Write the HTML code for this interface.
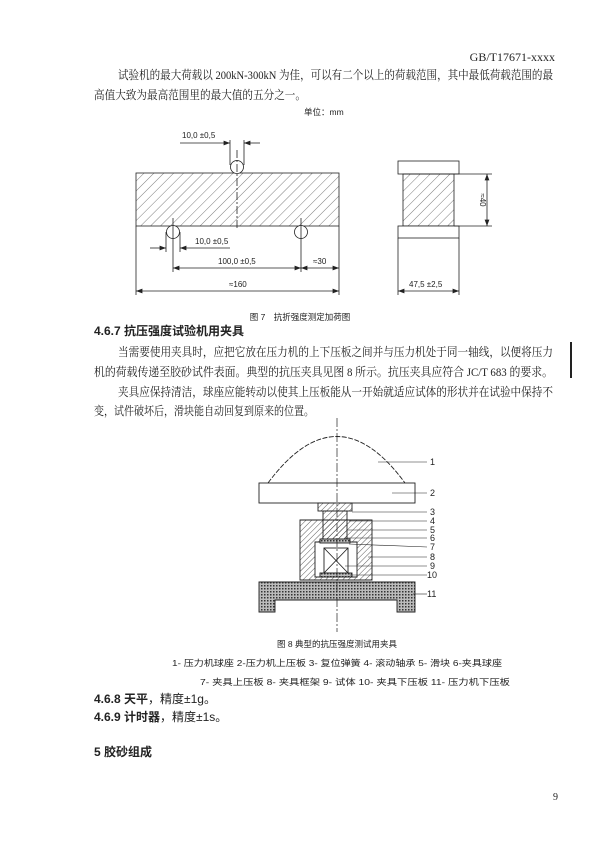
<!DOCTYPE html>
<html><head><meta charset="utf-8"><style>
html,body{margin:0;padding:0;background:#fff;}
svg{display:block}
text{font-family:"Liberation Serif","Noto Serif CJK SC","Noto Sans CJK SC",serif;fill:#222}
.s,.s text{font-family:"Liberation Sans","Noto Sans CJK SC",sans-serif}
</style></head><body>
<svg width="600" height="851" viewBox="0 0 600 851" xmlns="http://www.w3.org/2000/svg">
<defs>
<pattern id="h" width="7" height="7" patternUnits="userSpaceOnUse" patternTransform="rotate(45)"><line x1="0" y1="0" x2="0" y2="7" stroke="#444" stroke-width="0.7"/></pattern>
<pattern id="h2" width="4" height="4" patternUnits="userSpaceOnUse" patternTransform="rotate(45)"><line x1="0" y1="0" x2="0" y2="4" stroke="#333" stroke-width="0.8"/></pattern>
<pattern id="hx" width="3" height="3" patternUnits="userSpaceOnUse"><rect width="3" height="3" fill="#bbb"/><rect width="1.5" height="1.5" fill="#333"/></pattern>
<marker id="a" markerWidth="8" markerHeight="6" refX="8" refY="3" orient="auto-start-reverse"><path d="M0,0 L8,3 L0,6z" fill="#222"/></marker>
</defs>
<text x="555" y="61" font-size="12" text-anchor="end">GB/T17671-xxxx</text>
<text x="118" y="79" font-size="12" textLength="435" lengthAdjust="spacingAndGlyphs">试验机的最大荷载以 200kN-300kN 为佳，可以有二个以上的荷载范围，其中最低荷载范围的最</text>
<text x="94" y="99" font-size="12" textLength="212" lengthAdjust="spacingAndGlyphs">高值大致为最高范围里的最大值的五分之一。</text>
<text x="304" y="115" font-size="8.5" class="s">单位：mm</text>

<!-- Fig 7 -->
<g stroke="#222" fill="none" stroke-width="0.8">
<rect x="136" y="173" width="203" height="53" fill="url(#h)"/>
<circle cx="237" cy="167" r="6.5" fill="#fff"/>
<circle cx="173" cy="232" r="6.5" fill="#fff"/>
<circle cx="301" cy="232" r="6.5" fill="#fff"/>
<line x1="237" y1="150" x2="237" y2="230" stroke-dasharray="8,2,2,2"/>
<line x1="173" y1="218" x2="173" y2="272"/>
<line x1="301" y1="218" x2="301" y2="272"/>
<line x1="230" y1="140" x2="230" y2="165"/><line x1="244" y1="140" x2="244" y2="165"/>
<line x1="180" y1="143" x2="230" y2="143" marker-end="url(#a)"/><line x1="260" y1="143" x2="244" y2="143" marker-end="url(#a)"/>
<line x1="166" y1="232" x2="166" y2="252"/><line x1="180" y1="232" x2="180" y2="252"/>
<line x1="150" y1="248" x2="166" y2="248" marker-end="url(#a)"/><line x1="230" y1="248" x2="180" y2="248" marker-end="url(#a)"/>
<line x1="173" y1="268" x2="301" y2="268" marker-start="url(#a)" marker-end="url(#a)"/>
<line x1="301" y1="268" x2="339" y2="268" marker-start="url(#a)" marker-end="url(#a)"/>
<line x1="136" y1="226" x2="136" y2="295"/><line x1="339" y1="226" x2="339" y2="295"/>
<line x1="136" y1="291" x2="339" y2="291" marker-start="url(#a)" marker-end="url(#a)"/>
<rect x="398" y="161" width="61" height="13" fill="#fff"/>
<rect x="403" y="174" width="51" height="52" fill="url(#h)"/>
<rect x="398" y="226" width="61" height="12" fill="#fff"/>
<line x1="454" y1="174" x2="492" y2="174"/><line x1="454" y1="226" x2="492" y2="226"/>
<line x1="487" y1="174" x2="487" y2="226" marker-start="url(#a)" marker-end="url(#a)"/>
<line x1="398" y1="238" x2="398" y2="295"/><line x1="459" y1="238" x2="459" y2="295"/>
<line x1="398" y1="291" x2="459" y2="291" marker-start="url(#a)" marker-end="url(#a)"/>
</g>
<g font-size="8" class="s">
<text x="182" y="138">10,0  ±0,5</text>
<text x="195" y="244">10,0  ±0,5</text>
<text x="218" y="264">100,0  ±0,5</text>
<text x="313" y="264">≈30</text>
<text x="229" y="287">≈160</text>
<text x="409" y="287">47,5  ±2,5</text>
<text x="480" y="200" transform="rotate(90 480 200)" text-anchor="middle">≈40</text>
</g>
<text x="300" y="320" font-size="8.5" text-anchor="middle" class="s">图 7　抗折强度测定加荷图</text>

<text x="94" y="335" font-size="12" font-weight="bold" class="s">4.6.7 抗压强度试验机用夹具</text>
<text x="118" y="356" font-size="12" textLength="435" lengthAdjust="spacingAndGlyphs">当需要使用夹具时，应把它放在压力机的上下压板之间并与压力机处于同一轴线，以便将压力</text>
<text x="94" y="376" font-size="12" textLength="459" lengthAdjust="spacingAndGlyphs">机的荷载传递至胶砂试件表面。典型的抗压夹具见图 8 所示。抗压夹具应符合 JC/T 683 的要求。</text>
<text x="118" y="396" font-size="12" textLength="435" lengthAdjust="spacingAndGlyphs">夹具应保持清洁，球座应能转动以使其上压板能从一开始就适应试体的形状并在试验中保持不</text>
<text x="94" y="415" font-size="12" textLength="220" lengthAdjust="spacingAndGlyphs">变，试件破坏后，滑块能自动回复到原来的位置。</text>
<rect x="570" y="342" width="2" height="36" fill="#222"/>

<!-- Fig 8 -->
<g stroke="#222" fill="none" stroke-width="0.9">
<path d="M268,483 Q337,390 405,483" stroke-dasharray="5,1.5"/>
<rect x="259" y="483" width="156" height="20" fill="#fff"/>
<path d="M300,520 H372 V580 H300 Z M315,542 V577 H357 V542 Z" fill="url(#h2)" fill-rule="evenodd"/>
<rect x="318" y="503" width="34" height="8" fill="url(#h2)"/>
<rect x="323" y="511" width="24" height="28" fill="url(#h2)"/>
<rect x="320" y="539" width="30" height="4" fill="url(#hx)"/>
<rect x="324" y="548" width="24" height="25" fill="#fff"/>
<path d="M324,548 L348,573 M348,548 L324,573"/>
<rect x="320" y="573" width="32" height="4" fill="url(#hx)"/>
<path d="M259,582 H415 V612 H397 V600 H275 V612 H259 Z" fill="url(#hx)"/>
<line x1="337" y1="418" x2="337" y2="632" stroke-dasharray="9,2,2,2" stroke-width="0.7"/>
<g stroke-width="0.6">
<line x1="378" y1="462" x2="427" y2="462"/><line x1="392" y1="493" x2="427" y2="493"/>
<line x1="352" y1="512" x2="427" y2="512"/><line x1="349" y1="521" x2="427" y2="521"/>
<line x1="347" y1="530" x2="427" y2="530"/><line x1="345" y1="538" x2="427" y2="538"/>
<line x1="349" y1="544" x2="427" y2="547"/><line x1="368" y1="557" x2="427" y2="557"/>
<line x1="345" y1="566" x2="427" y2="566"/><line x1="350" y1="575" x2="427" y2="575"/>
<line x1="413" y1="594" x2="427" y2="594"/>
</g>
</g>
<g font-size="9" class="s">
<text x="430" y="465">1</text><text x="430" y="496">2</text><text x="430" y="515">3</text>
<text x="430" y="524">4</text><text x="430" y="533">5</text><text x="430" y="541">6</text>
<text x="430" y="550">7</text><text x="430" y="560">8</text><text x="430" y="569">9</text>
<text x="427" y="578">10</text><text x="427" y="597">11</text>
</g>
<text x="337" y="647" font-size="8.5" text-anchor="middle" class="s">图 8  典型的抗压强度测试用夹具</text>
<text x="337" y="666" font-size="8.5" text-anchor="middle" class="s" textLength="330" lengthAdjust="spacingAndGlyphs">1- 压力机球座  2-压力机上压板  3- 复位弹簧  4- 滚动轴承  5- 滑块  6-夹具球座</text>
<text x="355" y="685" font-size="8.5" text-anchor="middle" class="s" textLength="310" lengthAdjust="spacingAndGlyphs">7- 夹具上压板  8- 夹具框架  9- 试体  10- 夹具下压板  11- 压力机下压板</text>
<text x="94" y="703" font-size="12" class="s"><tspan font-weight="bold">4.6.8 天平</tspan>，精度±1g。</text>
<text x="94" y="721" font-size="12" class="s"><tspan font-weight="bold">4.6.9 计时器</tspan>，精度±1s。</text>
<text x="94" y="756" font-size="12" font-weight="bold" class="s">5 胶砂组成</text>
<text x="553" y="800" font-size="10">9</text>
</svg>
</body></html>
